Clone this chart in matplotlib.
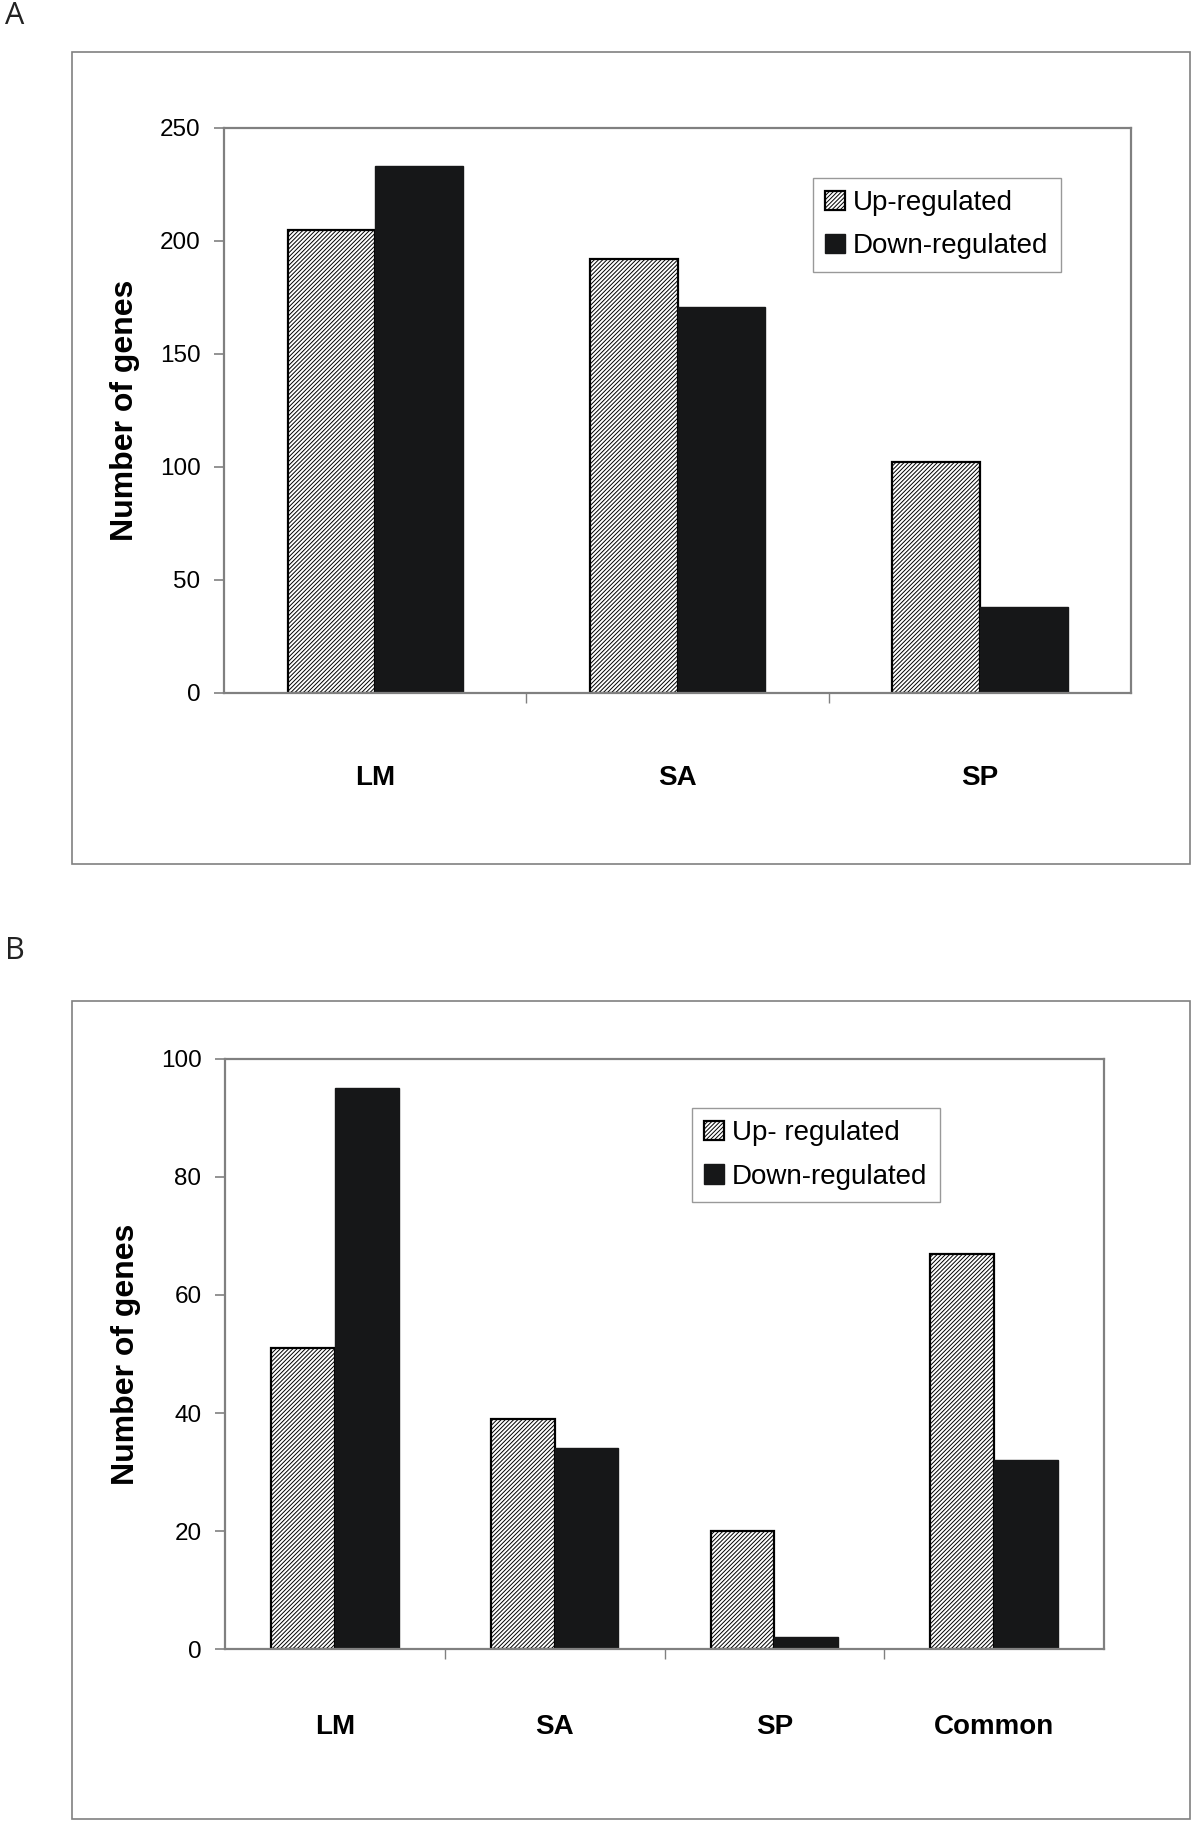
import numpy as np
import matplotlib
matplotlib.use("Agg")
import matplotlib.pyplot as plt
from matplotlib.patches import Rectangle

plt.rcParams['font.family'] = ['Liberation Sans', 'DejaVu Sans']
plt.rcParams['hatch.linewidth'] = 0.7
plt.rcParams['hatch.color'] = '#333333'

# data
cats_a = ["LM", "SA", "SP"]
up_a = [205, 192, 102]
down_a = [233, 171, 38]

cats_b = ["LM", "SA", "SP", "Common"]
up_b = [51, 39, 20, 67]
down_b = [95, 34, 2, 32]

labels_a = ["Up-regulated", "Down-regulated"]
labels_b = ["Up- regulated", "Down-regulated"]

GRAY = '#808080'
fig = plt.figure(figsize=(12, 18.28), dpi=100)

# outer chart-area boxes
for y0, h in [(0.5274, 0.4442), (0.0049, 0.4475)]:
    fig.patches.append(Rectangle((0.06, y0), 0.9317, h, transform=fig.transFigure,
                                 fill=False, edgecolor=GRAY, linewidth=1.2))

fig.text(0.012, 0.991, "A", fontsize=22, family='Open Sans', va='center', ha='center', color='#222222')
fig.text(0.012, 0.480, "B", fontsize=22, family='Open Sans', va='center', ha='center', color='#222222')


def panel(rect, cats, up, down, ymax, step, labels, leg_anchor, label_pad):
    ax = fig.add_axes(rect)
    x = np.arange(len(cats))
    w = 0.29
    ax.bar(x - w / 2, up, w, facecolor='white', edgecolor='black', hatch='////////',
           linewidth=1.6, label=labels[0], zorder=2)
    ax.bar(x + w / 2, down, w, facecolor='#161718', edgecolor='#161718',
           linewidth=1.0, label=labels[1], zorder=2)
    ax.set_xlim(-0.5, len(cats) - 0.5)
    ax.set_ylim(0, ymax)
    ax.set_yticks(np.arange(0, ymax + 1, step))
    ax.set_xticks(x)
    ax.set_xticklabels(cats, fontsize=20, fontweight='bold')
    ax.set_xticks(np.arange(0.5, len(cats) - 0.5, 1), minor=True)
    ax.tick_params(axis='x', which='major', length=0, pad=label_pad)
    ax.tick_params(axis='x', which='minor', length=7, width=1.0, color=GRAY, direction='out')
    ax.tick_params(axis='y', length=7, width=1.2, color=GRAY, pad=10, labelsize=17.5)
    for s in ax.spines.values():
        s.set_color(GRAY)
        s.set_linewidth(1.6)
    ax.set_ylabel("Number of genes", fontsize=23, fontweight='bold', labelpad=14)
    leg = ax.legend(loc='upper left', bbox_to_anchor=leg_anchor, fontsize=20,
                    frameon=True, fancybox=False, handlelength=0.7, handleheight=0.7,
                    handletextpad=0.3, borderpad=0.45, labelspacing=0.62, borderaxespad=0)
    leg.get_frame().set_edgecolor(GRAY)
    leg.get_frame().set_linewidth(1.0)
    return ax


panel([0.1867, 0.6209, 0.7558, 0.3091], cats_a, up_a, down_a, 250, 50, labels_a,
      (0.649, 0.912), 52)
panel([0.1875, 0.0979, 0.7325, 0.3228], cats_b, up_b, down_b, 100, 20, labels_b,
      (0.531, 0.917), 47)

fig.savefig("out.png", dpi=100)
